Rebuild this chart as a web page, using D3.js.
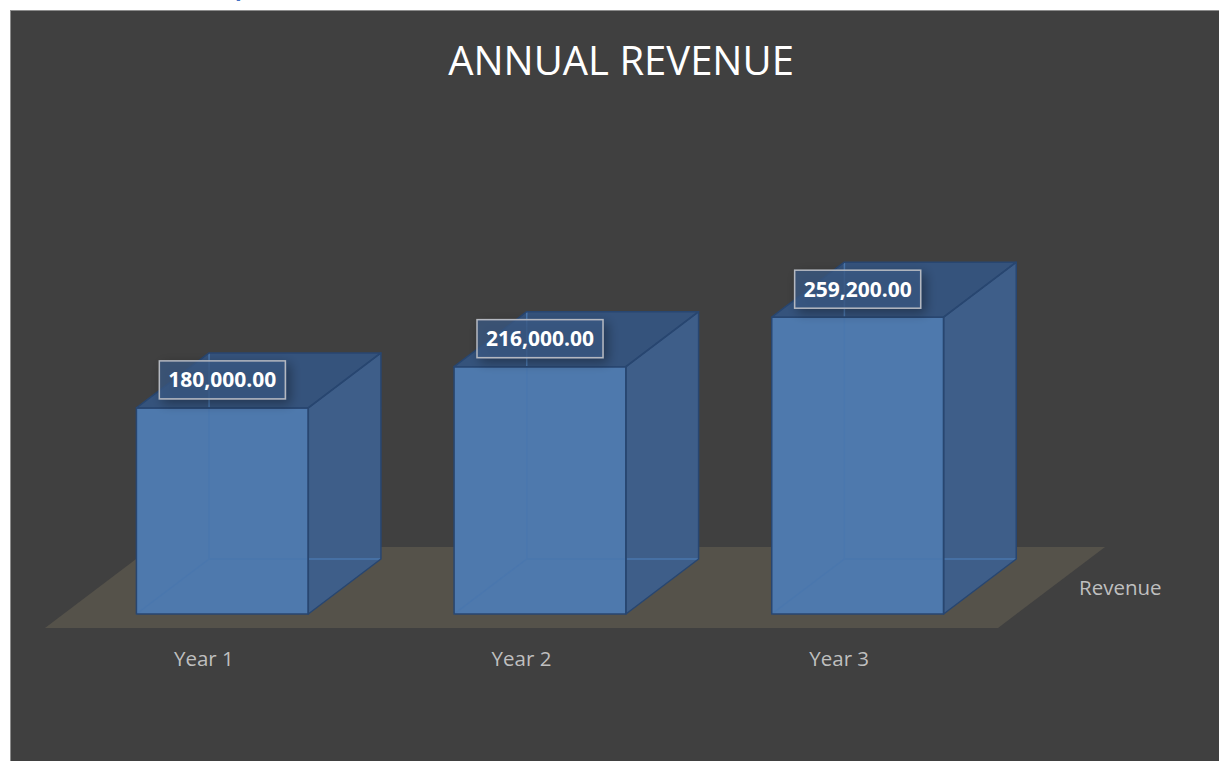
<!DOCTYPE html>
<html lang="en">
<head>
  <meta charset="UTF-8">
  <title>Annual Revenue</title>
  <style>
    body {
      margin: 0;
      padding: 0;
      background: #ffffff;
      font-family: "Open Sans", sans-serif;
    }
  </style>
</head>
<body>
<svg width="1219" height="761"></svg>
<script src="https://d3js.org/d3.v7.min.js"></script>
<script>
// chart data
const title = "ANNUAL REVENUE";
const seriesName = "Revenue";
const categories = ["Year 1", "Year 2", "Year 3"];
const revenue = [180000, 216000, 259200];
const valueMax = 300000;

const svg = d3.select("svg");

// cut-off heading above the chart
svg.append("text")
  .attr("x", 235).attr("y", -4)
  .attr("font-size", 22).attr("font-weight", "bold")
  .attr("fill", "#4472c4")
  .text("p");

// chart area
svg.append("rect")
  .attr("x", 10.5).attr("y", 10.5)
  .attr("width", 1240).attr("height", 770)
  .attr("fill", "#404040")
  .attr("stroke", "#8c8c8c").attr("stroke-width", 1);

const defs = svg.append("defs");
const glow = defs.append("filter").attr("id", "glow")
  .attr("x", "-30%").attr("y", "-60%").attr("width", "160%").attr("height", "220%");
glow.append("feGaussianBlur").attr("in", "SourceAlpha").attr("stdDeviation", 6).attr("result", "b");
glow.append("feOffset").attr("dx", 4).attr("dy", 4).attr("result", "o");
glow.append("feComponentTransfer").append("feFuncA").attr("type", "linear").attr("slope", 0.45);
const merge = glow.append("feMerge");
merge.append("feMergeNode");
merge.append("feMergeNode").attr("in", "SourceGraphic");

// floor front edge -> category bands, depth is a fraction of the floor depth
const x = d3.scaleBand().domain(categories).range([45, 998]);
const y = d3.scaleLinear().domain([0, valueMax]).range([628, 284.5]);
const depthX = d3.scaleLinear().domain([0, 1]).range([0, 107]);
const depthY = d3.scaleLinear().domain([0, 1]).range([0, -81]);
const zFront = 0.173, zBack = 0.852;
const barWidth = x.bandwidth() * 0.541;

function pt(px, py, z) {
  return [px + depthX(z), py + depthY(z)];
}
function poly(points) {
  return "M" + points.map(p => p.join(",")).join("L") + "Z";
}

// floor
const fx0 = x.range()[0], fx1 = x.range()[1], fy = y(0);
svg.append("path")
  .attr("d", poly([pt(fx0, fy, 0), pt(fx1, fy, 0), pt(fx1, fy, 1), pt(fx0, fy, 1)]))
  .attr("fill", "#55524a");

// bars
const bars = svg.selectAll("g.bar")
  .data(categories.map((c, i) => ({cat: c, value: revenue[i]})))
  .join("g").attr("class", "bar");

bars.each(function(d) {
  const g = d3.select(this);
  const x0 = x(d.cat) + (x.bandwidth() - barWidth) / 2;
  const x1 = x0 + barWidth;
  const yb = y(0), yt = y(d.value);

  const front = [pt(x0, yb, zFront), pt(x1, yb, zFront), pt(x1, yt, zFront), pt(x0, yt, zFront)];
  const side = [pt(x1, yb, zFront), pt(x1, yb, zBack), pt(x1, yt, zBack), pt(x1, yt, zFront)];
  const top = [pt(x0, yt, zFront), pt(x1, yt, zFront), pt(x1, yt, zBack), pt(x0, yt, zBack)];

  g.append("path").attr("d", poly(front)).attr("fill", "#4e79ad");
  g.append("path").attr("d", poly(side)).attr("fill", "#3e5e89");
  g.append("path").attr("d", poly(top)).attr("fill", "#35537c");

  // hidden edges seen through the translucent box
  const hidden = [
    [pt(x0, yb, zFront), pt(x0, yb, zBack)],
    [pt(x0, yb, zBack), pt(x1, yb, zBack)],
    [pt(x0, yb, zBack), pt(x0, yt, zBack)]
  ];
  hidden.forEach(h => {
    g.append("line")
      .attr("x1", h[0][0]).attr("y1", h[0][1])
      .attr("x2", h[1][0]).attr("y2", h[1][1])
      .attr("stroke", "#4a77ae").attr("stroke-width", 1.5);
  });

  [front, side, top].forEach(f => {
    g.append("path").attr("d", poly(f))
      .attr("fill", "none")
      .attr("stroke", "#284670").attr("stroke-width", 1.5)
      .attr("stroke-linejoin", "round");
  });

  // data label
  const cx = (x0 + x1) / 2 + depthX(zFront);
  const cy = yt + depthY(zFront) - 28;
  const lbl = g.append("g").attr("filter", "url(#glow)");
  lbl.append("rect")
    .attr("x", cx - 63).attr("y", cy - 19)
    .attr("width", 126).attr("height", 38)
    .attr("fill", "#3a5884").attr("fill-opacity", 0.75)
    .attr("stroke", "#b4b8c0").attr("stroke-width", 1.5);
  g.append("text")
    .attr("x", cx).attr("y", cy + 7.5)
    .attr("text-anchor", "middle")
    .attr("font-size", 21).attr("font-weight", "bold")
    .attr("fill", "#ffffff")
    .text(d3.format(",.2f")(d.value));
});

// category labels
svg.selectAll("text.cat")
  .data(categories)
  .join("text").attr("class", "cat")
  .attr("x", d => x(d) + x.bandwidth() / 2)
  .attr("y", 666)
  .attr("text-anchor", "middle")
  .attr("font-size", 20.5)
  .attr("fill", "#bfbfbf")
  .text(d => d);

// series label at the depth axis
svg.append("text")
  .attr("x", 1079).attr("y", 595)
  .attr("font-size", 20.5)
  .attr("fill", "#bfbfbf")
  .text(seriesName);

// title
svg.append("text")
  .attr("x", 621).attr("y", 75)
  .attr("text-anchor", "middle")
  .attr("font-size", 40)
  .attr("fill", "#ffffff")
  .text(title);
</script>
</body>
</html>
